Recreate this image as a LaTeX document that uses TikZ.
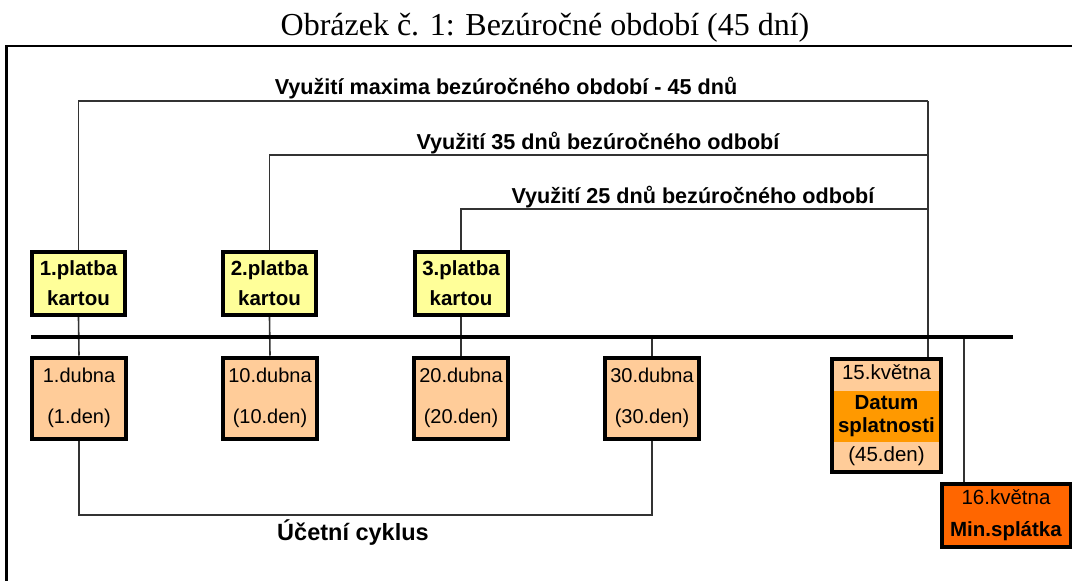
\documentclass[tikz,border=0pt]{standalone}
\usepackage{fontspec}
\setmainfont{Liberation Serif}
\setsansfont{Liberation Sans}
\usetikzlibrary{positioning,calc}

\definecolor{platba}{HTML}{FFFF99}
\definecolor{datum}{HTML}{FFCC99}
\definecolor{splatnost}{HTML}{FF9900}
\definecolor{minimum}{HTML}{FF6600}
\definecolor{linka}{HTML}{333333}

\begin{document}
\begin{tikzpicture}[x=1pt,y=-1pt,
    spoj/.style={draw=linka, line width=1.6pt},
    osa/.style={draw=black, line width=3.2pt},
    platbabox/.style={draw=black, line width=4pt, fill=platba, inner sep=0pt,
        minimum width=93pt, minimum height=63pt, align=center,
        font=\sffamily\bfseries\fontsize{20.5}{30}\selectfont},
    datumbox/.style={draw=black, line width=4pt, fill=datum, inner sep=0pt,
        minimum width=94pt, minimum height=81pt, align=center,
        font=\sffamily\fontsize{20}{41}\selectfont},
    popis/.style={anchor=base, font=\sffamily\bfseries\fontsize{21.6}{25}\selectfont}]
    \useasboundingbox (0,0) rectangle (1072,581);

    % nadpis a ramecek
    \node[anchor=base, font=\fontsize{32}{38}\selectfont] (nadpis) at (545,35) {Obrázek č. 1: Bezúročné období (45 dní)};
    \draw[line width=2.6pt] (6.5,581) -- (6.5,46) -- (1072,46);

    % platby kartou
    \node[platbabox] (p1) at (78.5,283.5) {1.platba\\kartou};
    \node[platbabox] (p2) at (269.5,283.5) {2.platba\\kartou};
    \node[platbabox] (p3) at (461,283.5) {3.platba\\kartou};

    % casova osa
    \coordinate (osaL) at (31,337);
    \coordinate (osaR) at (1013,337);

    % dny
    \node[datumbox] (d1) at (79,398) {1.dubna\\(1.den)};
    \node[datumbox] (d2) at (270,398) {10.dubna\\(10.den)};
    \node[datumbox] (d3) at (461,398) {20.dubna\\(20.den)};
    \node[datumbox] (d4) at (652,398) {30.dubna\\(30.den)};
    \node[datumbox, minimum width=109pt, minimum height=113pt,
        font=\sffamily\fontsize{20.5}{23}\selectfont,
        path picture={\fill[splatnost] ([yshift=-32pt]path picture bounding box.north west)
            rectangle ([yshift=-83pt]path picture bounding box.north east);}]
        (d5) at (886.5,415.5) {15.května\\[7pt]\textbf{Datum}\\\textbf{splatnosti}\\[6pt](45.den)};
    \node[datumbox, fill=minimum, minimum width=129pt, minimum height=63pt,
        font=\sffamily\fontsize{20.5}{32}\selectfont]
        (m1) at (1006,515.5) {16.května\\\textbf{Min.splátka}};

    % bezurocne obdobi
    \coordinate (k45) at (928,101);
    \coordinate (k35) at (928,155);
    \coordinate (k25) at (928,209);
    \draw[spoj] (p1.north) |- (k45);
    \draw[spoj] (p2.north) |- (k35);
    \draw[spoj] (p3.north) |- (k25);
    \draw[spoj] (k45) -- (k45 |- d5.north);
    \node[popis] (l45) at (506,94) {Využití maxima bezúročného období - 45 dnů};
    \node[popis] (l35) at (598,149) {Využití 35 dnů bezúročného odbobí};
    \node[popis] (l25) at (693,203) {Využití 25 dnů bezúročného odbobí};

    % spojnice k ose
    \draw[spoj] (p1.south) -- (d1.north);
    \draw[spoj] (p2.south) -- (d2.north);
    \draw[spoj] (p3.south) -- (d3.north);
    \draw[spoj] (d4.north |- osaL) -- (d4.north);
    \coordinate (kmin) at (964,337);
    \draw[spoj] (kmin) -- (kmin |- m1.north);
    \draw[osa] (osaL) -- (osaR);

    % ucetni cyklus
    \coordinate (kcyk) at (79,515);
    \draw[spoj] (d1.south) |- (d4.south |- kcyk) -- (d4.south);
    \node[popis, font=\sffamily\bfseries\fontsize{23.5}{27}\selectfont] (cyklus) at (353,540) {Účetní cyklus};
\end{tikzpicture}
\end{document}
